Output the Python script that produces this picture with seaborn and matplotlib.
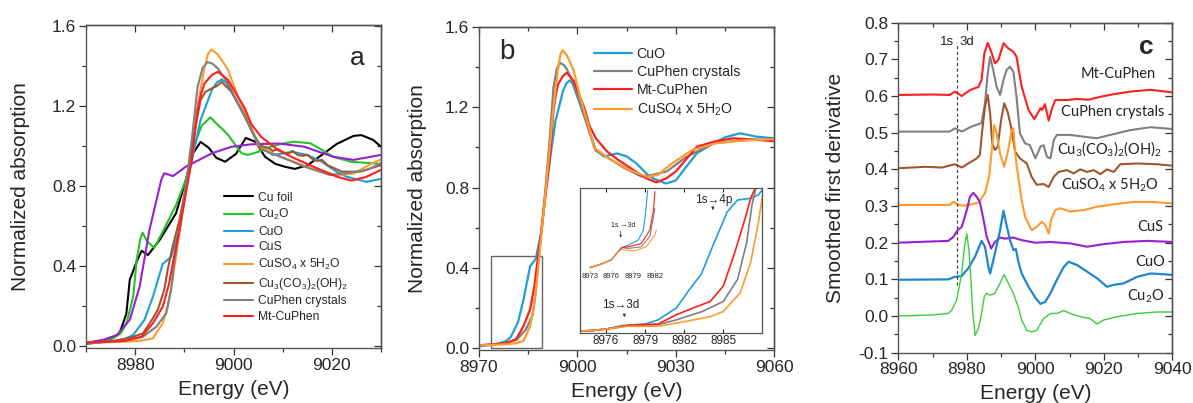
import matplotlib
matplotlib.use('Agg')
import matplotlib.pyplot as plt
import seaborn as sns
from matplotlib.ticker import MultipleLocator, AutoMinorLocator, NullFormatter
from matplotlib.patches import Rectangle

# ── DATA ───────────────────────────────────────────
# panel a / b : normalized XANES
e_cufoil = [8970, 8974, 8976.8, 8978.2, 8978.9, 8980.3, 8981.3, 8982.6, 8985, 8988.3, 8990.3, 8991.8,
            8993.3, 8995, 8996.5, 8998.3, 9000.5, 9002.5, 9004.5, 9006.4, 9008.5, 9010.4, 9012.5,
            9015.1, 9018.4, 9021, 9024.4, 9026, 9028.4, 9030]
y_cufoil = [0.01, 0.02, 0.06, 0.16, 0.33, 0.42, 0.475, 0.454, 0.53, 0.663, 0.83, 0.964,
            1.02, 0.99, 0.94, 0.921, 0.96, 1.04, 1.02, 0.946, 0.91, 0.896, 0.885,
            0.904, 0.963, 1.01, 1.05, 1.054, 1.03, 0.996]

e_cu2o = [8970, 8975, 8977, 8978.2, 8979.6, 8980.3, 8981.0, 8981.5, 8982.5, 8983.9, 8986, 8988.3,
          8990.3, 8992, 8993.5, 8995.3, 8996.8, 8997.5, 8998.9, 9000.5, 9001.6, 9002.9, 9005,
          9007.6, 9010, 9012.3, 9015.6, 9018, 9020.2, 9024, 9028.4, 9030]
y_cu2o = [0.01, 0.03, 0.06, 0.11, 0.245, 0.43, 0.53, 0.566, 0.52, 0.49, 0.59, 0.704,
          0.83, 1.0, 1.1, 1.143, 1.105, 1.09, 1.055, 1.0, 0.964, 0.955, 0.97,
          0.996, 1.012, 1.021, 1.013, 0.98, 0.946, 0.92, 0.913, 0.91]

e_cuo = [8970, 8975, 8978, 8979.6, 8981.9, 8983.6, 8985.6, 8986.6, 8987.3, 8989, 8990.3, 8991.8,
         8993.3, 8995.6, 8996.6, 8997.6, 8998.6, 8999.6, 9002.3, 9004, 9005.5, 9008, 9012, 9015,
         9018, 9021, 9023, 9027, 9030, 9033, 9036.4, 9041.4, 9045, 9049.6, 9054.6, 9060]
y_cuo = [0.01, 0.02, 0.035, 0.054, 0.13, 0.245, 0.41, 0.43, 0.445, 0.58, 0.78, 0.96,
         1.13, 1.28, 1.318, 1.333, 1.315, 1.27, 1.146, 1.063, 0.99, 0.955, 0.97, 0.955,
         0.92, 0.87, 0.846, 0.82, 0.835, 0.9, 0.97, 1.02, 1.05, 1.07, 1.053, 1.045]

e_cus = [8970, 8973.6, 8976.3, 8978.9, 8980.9, 8982.9, 8985.3, 8985.9, 8987.7, 8990.3, 8993,
         8995.6, 8999.6, 9003.6, 9009.1, 9014.4, 9020.2, 9024.4, 9030]
y_cus = [0.015, 0.03, 0.054, 0.13, 0.295, 0.58, 0.83, 0.863, 0.849, 0.896, 0.93,
         0.963, 0.996, 1.008, 1.012, 0.996, 0.946, 0.93, 0.955]

e_cuso4 = [8970, 8978, 8981, 8983.6, 8985.6, 8986.6, 8987.6, 8988.6, 8989.6, 8990.6, 8992.7,
           8994, 8994.8, 8995.5, 8996.7, 8997.6, 8998.9, 9000.9, 9003.6, 9005, 9009.1, 9015.8,
           9021.2, 9024.4, 9028.4, 9035, 9042, 9051.6, 9060]
y_cuso4 = [0.015, 0.02, 0.025, 0.037, 0.112, 0.195, 0.329, 0.495, 0.663, 0.83, 1.2,
           1.38, 1.46, 1.483, 1.46, 1.43, 1.38, 1.246, 1.096, 1.0, 0.95, 0.888,
           0.854, 0.862, 0.915, 0.987, 1.02, 1.036, 1.04]

e_cu3 = [8970, 8976, 8979, 8981.6, 8983.6, 8984.6, 8985.9, 8986.6, 8987.6, 8989, 8990.3, 8991.8,
         8993.3, 8994.3, 8995.6, 8996.6, 8997.6, 8999.6, 9002.3, 9004, 9005.5, 9007.1, 9008, 9009,
         9010, 9011, 9012, 9013, 9014, 9015, 9016.3, 9017, 9018, 9019.1, 9022, 9025.7, 9030]
y_cu3 = [0.015, 0.025, 0.04, 0.062, 0.137, 0.18, 0.279, 0.379, 0.495, 0.629, 0.796, 1.03,
         1.23, 1.271, 1.288, 1.30, 1.32, 1.271, 1.15, 1.06, 1.0, 0.99, 0.975, 0.985,
         0.97, 0.96, 0.975, 0.955, 0.95, 0.955, 0.93, 0.925, 0.93, 0.904, 0.871, 0.871, 0.904]

e_cuphen = [8970, 8978, 8981.6, 8984.3, 8986.3, 8987.3, 8987.9, 8989, 8990.1, 8991.5, 8992.7,
            8993.7, 8994.7, 8995.8, 8996.8, 8998.9, 9001.6, 9003.6, 9005.5, 9010.4, 9014, 9019.6,
            9022, 9027.2, 9033, 9041.4, 9050, 9060]
y_cuphen = [0.015, 0.025, 0.045, 0.095, 0.162, 0.279, 0.41, 0.58, 0.763, 1.03, 1.296,
            1.39, 1.42, 1.41, 1.388, 1.313, 1.18, 1.08, 0.985, 0.937, 0.90, 0.854,
            0.86, 0.88, 0.95, 1.02, 1.035, 1.04]

e_mt = [8970, 8978, 8981.3, 8983.6, 8985.6, 8986.9, 8987.9, 8989, 8990.3, 8991.5, 8992.7, 8993.4,
        8994.1, 8995.6, 8996.8, 8998.9, 9000.9, 9002.3, 9003.6, 9005.6, 9009, 9012.4, 9017, 9021,
        9024, 9027, 9030, 9036.4, 9042, 9047.4, 9053, 9060]
y_mt = [0.015, 0.025, 0.045, 0.112, 0.195, 0.312, 0.445, 0.58, 0.763, 0.93, 1.18, 1.26,
        1.313, 1.355, 1.371, 1.33, 1.246, 1.188, 1.11, 1.046, 0.98, 0.938, 0.888, 0.846,
        0.826, 0.845, 0.88, 1.003, 1.03, 1.045, 1.04, 1.03]

# panel b inset (pre-edge zoom)
ins_e_cuo = [8974.0, 8975, 8976.1, 8977.2, 8979.0, 8980.0, 8981.4, 8982.4, 8983.3, 8984.2, 8985.3,
             8986.1, 8987.1, 8987.7, 8988.1]
ins_y_cuo = [0.005, 0.007, 0.012, 0.022, 0.027, 0.040, 0.077, 0.134, 0.181, 0.270, 0.375,
             0.412, 0.417, 0.428, 0.449]
ins_e_mt = [8974.0, 8975, 8976.1, 8977.7, 8980.0, 8981.4, 8982.7, 8984.0, 8985.0, 8985.8, 8986.6,
            8987.1, 8987.5]
ins_y_mt = [0.005, 0.007, 0.012, 0.023, 0.027, 0.056, 0.077, 0.097, 0.145, 0.239, 0.344,
            0.417, 0.454]
ins_e_phen = [8974.0, 8975, 8976.1, 8977.7, 8980.0, 8981.4, 8983.4, 8985.0, 8986.1, 8986.8,
              8987.2, 8987.5]
ins_y_phen = [0.005, 0.007, 0.012, 0.022, 0.025, 0.040, 0.066, 0.097, 0.166, 0.281, 0.396, 0.449]
ins_e_so4 = [8974.0, 8975, 8976.1, 8977.7, 8980.0, 8982.1, 8984.0, 8985.0, 8986.3, 8987.1,
             8987.7, 8988.1]
ins_y_so4 = [0.005, 0.007, 0.012, 0.02, 0.02, 0.035, 0.050, 0.066, 0.124, 0.218, 0.344, 0.449]

# small inner inset (1s->3d)
inn_e_cuo = [8973, 8974.6, 8976.0, 8976.9, 8977.4, 8978.3, 8979.7, 8980.4, 8980.7, 8981.0]
inn_y_cuo = [0.003, 0.0075, 0.013, 0.023, 0.028, 0.031, 0.0375, 0.05, 0.071, 0.1]
inn_e_mt = [8973, 8974.6, 8976.0, 8976.9, 8977.4, 8978.3, 8980.1, 8981.3, 8981.8, 8982.0]
inn_y_mt = [0.003, 0.0075, 0.013, 0.023, 0.028, 0.029, 0.033, 0.05, 0.075, 0.098]
inn_e_phen = [8973, 8974.6, 8976.0, 8976.9, 8977.4, 8978.3, 8980.1, 8981.3, 8982.0]
inn_y_phen = [0.003, 0.0075, 0.013, 0.023, 0.028, 0.027, 0.029, 0.042, 0.077]
inn_e_so4 = [8973, 8974.6, 8976.0, 8976.9, 8977.4, 8977.8, 8979.2, 8980.8, 8982.0, 8982.2]
inn_y_so4 = [0.003, 0.0075, 0.013, 0.023, 0.026, 0.025, 0.024, 0.029, 0.044, 0.05]

# panel c : smoothed first derivative (stacked, offsets included)
c_e_mt = [8960, 8970, 8975, 8976.5, 8978.5, 8980.9, 8983.4, 8984.3, 8985.1, 8986.1, 8987.3, 8988.2,
          8989.2, 8990.7, 8992.1, 8993.6, 8994.5, 8996.0, 8998.0, 8999.7, 9001.5, 9002.0, 9002.8,
          9003.9, 9004.9, 9005.8, 9009.2, 9012, 9015.6, 9019, 9022.9, 9027.7, 9033.6, 9040]
c_y_mt = [0.603, 0.604, 0.603, 0.612, 0.600, 0.616, 0.625, 0.644, 0.716, 0.745, 0.716, 0.689,
          0.698, 0.744, 0.730, 0.721, 0.707, 0.626, 0.562, 0.537, 0.567, 0.562, 0.578,
          0.533, 0.567, 0.589, 0.589, 0.592, 0.590, 0.598, 0.605, 0.612, 0.617, 0.610]
c_e_phen = [8960, 8975, 8976.5, 8978.5, 8981.4, 8984.3, 8985.3, 8986.1, 8986.8, 8987.7, 8988.7,
            8989.7, 8990.7, 8991.6, 8992.6, 8993.6, 8994.5, 8995.5, 8997.0, 8998.4, 9000.0, 9001.5,
            9002.4, 9003.4, 9004.4, 9005.4, 9006.3, 9010.2, 9014.1, 9018, 9021.9, 9027.7, 9033.6, 9040]
c_y_phen = [0.503, 0.503, 0.512, 0.503, 0.517, 0.526, 0.58, 0.662, 0.707, 0.671, 0.625,
            0.603, 0.644, 0.671, 0.68, 0.666, 0.598, 0.498, 0.471, 0.466, 0.430, 0.462,
            0.466, 0.434, 0.430, 0.480, 0.494, 0.494, 0.489, 0.485, 0.494, 0.507, 0.515, 0.510]
c_e_cu3 = [8960, 8967.8, 8972.7, 8976.5, 8978.5, 8980.4, 8982.9, 8983.8, 8984.5, 8985.3, 8986.1,
           8986.8, 8987.4, 8988.2, 8989.0, 8990.0, 8990.9, 8991.9, 8992.9, 8994.1, 8995.5, 8997.5,
           8998.9, 9000.4, 9002.4, 9003.9, 9005.4, 9006.8, 9009.2, 9011.2, 9013.1, 9015.1, 9017.0,
           9019.0, 9020.9, 9022.9, 9024.8, 9029.7, 9035.5, 9040]
c_y_cu3 = [0.403, 0.407, 0.405, 0.414, 0.405, 0.416, 0.430, 0.439, 0.507, 0.571, 0.603,
           0.553, 0.471, 0.453, 0.462, 0.534, 0.580, 0.557, 0.516, 0.448, 0.430, 0.416,
           0.380, 0.358, 0.360, 0.352, 0.380, 0.393, 0.398, 0.389, 0.400, 0.393, 0.398,
           0.387, 0.400, 0.393, 0.414, 0.416, 0.414, 0.410]
c_e_so4 = [8960, 8975, 8976.1, 8977.5, 8979.5, 8983.4, 8985.3, 8986.5, 8987.4, 8988.0, 8988.7,
           8989.7, 8990.9, 8992.1, 8993.1, 8993.6, 8994.1, 8995.0, 8996.0, 8997.0, 8998.9, 9000.5,
           9001.9, 9002.9, 9003.9, 9004.6, 9005.8, 9007.3, 9010.2, 9014.1, 9018, 9022.9, 9028.7,
           9034.5, 9040]
c_y_so4 = [0.303, 0.303, 0.312, 0.303, 0.301, 0.309, 0.335, 0.380, 0.462, 0.521, 0.498,
           0.443, 0.407, 0.453, 0.507, 0.512, 0.443, 0.380, 0.316, 0.271, 0.234, 0.244,
           0.257, 0.248, 0.225, 0.262, 0.289, 0.294, 0.285, 0.289, 0.298, 0.305, 0.311,
           0.311, 0.307]
c_e_cus = [8960, 8974.6, 8976.1, 8977.3, 8978.5, 8980.0, 8980.9, 8981.9, 8982.9, 8983.8, 8984.8,
           8985.8, 8987.1, 8988.2, 8989.7, 8991.1, 8993.6, 8996.0, 8999.9, 9004.4, 9010.2, 9015.1,
           9019.9, 9025.8, 9032.6, 9040]
c_y_cus = [0.200, 0.205, 0.216, 0.234, 0.243, 0.289, 0.325, 0.336, 0.325, 0.311, 0.266,
           0.216, 0.184, 0.202, 0.214, 0.211, 0.214, 0.207, 0.200, 0.202, 0.198, 0.189,
           0.196, 0.202, 0.205, 0.202]
c_e_cuo = [8960, 8974.6, 8976.5, 8978.5, 8980.4, 8982.4, 8984.3, 8985.3, 8986.3, 8986.8, 8988.2,
           8989.7, 8990.7, 8991.6, 8992.6, 8993.6, 8994.3, 8995.0, 8996.0, 8998.0, 9000.0, 9001.5,
           9002.9, 9004.4, 9006.3, 9008.3, 9009.7, 9012.2, 9015.1, 9018, 9020.9, 9022.9, 9025.8,
           9029.7, 9033.6, 9037.5, 9040]
c_y_cuo = [0.099, 0.100, 0.107, 0.109, 0.130, 0.162, 0.205, 0.189, 0.134, 0.116, 0.171,
           0.234, 0.287, 0.248, 0.207, 0.180, 0.183, 0.150, 0.116, 0.080, 0.050, 0.033,
           0.039, 0.062, 0.099, 0.134, 0.148, 0.139, 0.121, 0.103, 0.080, 0.085, 0.089,
           0.107, 0.116, 0.114, 0.112]
c_e_cu2o = [8960, 8969.7, 8974.6, 8975.6, 8977.0, 8978.5, 8979.3, 8980.0, 8980.6, 8981.2, 8981.6,
            8982.4, 8983.4, 8984.3, 8985.1, 8985.8, 8986.8, 8988.2, 8989.7, 8990.9, 8992.1, 8993.6,
            8995.0, 8996.0, 8997.5, 8998.9, 9000.4, 9002.4, 9004.4, 9006.3, 9008.3, 9010.2, 9013.1,
            9016.0, 9018.0, 9019.9, 9023.8, 9029.7, 9035.5, 9040]
c_y_cu2o = [0.0, 0.003, 0.007, 0.016, 0.043, 0.116, 0.189, 0.224, 0.180, 0.099, 0.025,
            -0.053, -0.034, 0.007, 0.053, 0.062, 0.057, 0.062, 0.090, 0.113, 0.090, 0.062,
            0.025, -0.011, -0.039, -0.043, -0.039, -0.007, 0.007, 0.007, 0.015, 0.007, -0.002,
            -0.007, -0.022, -0.011, -0.002, 0.007, 0.011, 0.011]

labels_a = ['Cu foil', 'Cu$_2$O', 'CuO', 'CuS', 'CuSO$_4$ x 5H$_2$O',
            'Cu$_3$(CO$_3$)$_2$(OH)$_2$', 'CuPhen crystals', 'Mt-CuPhen']
labels_b = ['CuO', 'CuPhen crystals', 'Mt-CuPhen', 'CuSO$_4$ x 5H$_2$O']
labels_c = ['Mt-CuPhen', 'CuPhen crystals', 'Cu$_3$(CO$_3$)$_2$(OH)$_2$', 'CuSO$_4$ x 5H$_2$O',
            'CuS', 'CuO', 'Cu$_2$O']
label_c_x = [9024.1, 9022.7, 9021.6, 9021.9, 9033.6, 9033.6, 9032.1]
label_c_y = [0.660, 0.557, 0.457, 0.357, 0.244, 0.148, 0.053]

zoom_box = (8973.7, 8989.1, 0.0, 0.46)
edge_1s3d = 8977.0

# ── STYLE ──────────────────────────────────────────
sns.set_theme(style='ticks')
plt.rcParams['font.family'] = ['Liberation Sans', 'DejaVu Sans']
plt.rcParams['mathtext.default'] = 'regular'
plt.rcParams['axes.unicode_minus'] = False

COL = {'foil': 'black', 'cu2o': '#22c322', 'cuo': '#1e9fd8', 'cus': '#9a1fd4',
       'so4': '#ff9a2e', 'cu3': '#a0562c', 'phen': '#808080', 'mt': '#ff1f1f'}
C_COL = {'cuo': '#1f86cc', 'cu2o': '#3dcc3d'}


def draw(ax, e, y, color, lw=1.5, label=None):
    sns.lineplot(x=e, y=y, ax=ax, color=color, linewidth=lw, estimator=None,
                 sort=False, label=label, legend=False)


def frame(ax, xmaj, ymaj, fs=12.5):
    ax.xaxis.set_major_locator(MultipleLocator(xmaj))
    ax.yaxis.set_major_locator(MultipleLocator(ymaj))
    ax.xaxis.set_minor_locator(AutoMinorLocator(2))
    ax.yaxis.set_minor_locator(AutoMinorLocator(2))
    ax.tick_params(which='both', direction='out', top=False, right=False, labelsize=fs,
                   width=0.9, color='#333333', pad=2)
    ax.tick_params(which='major', length=5)
    ax.tick_params(which='minor', length=3)
    for s in ax.spines.values():
        s.set_color('#555555')
        s.set_linewidth(1.0)
    top = ax.secondary_xaxis('top')
    right = ax.secondary_yaxis('right')
    for sec, axis in ((top, top.xaxis), (right, right.yaxis)):
        axis.set_major_locator(MultipleLocator(xmaj if sec is top else ymaj))
        axis.set_minor_locator(AutoMinorLocator(2))
        axis.set_major_formatter(NullFormatter())
        sec.tick_params(which='both', direction='in', width=0.9, color='#333333')
        sec.tick_params(which='major', length=5)
        sec.tick_params(which='minor', length=3)
        for s in sec.spines.values():
            s.set_color('#555555')
            s.set_linewidth(1.0)


fig = plt.figure(figsize=(11.93, 4.03), dpi=100)

# ── PANEL A ────────────────────────────────────────
ax_a = fig.add_axes([0.0721, 0.1357, 0.2473, 0.8022])
curves_a = [(e_cufoil, y_cufoil, 'foil'), (e_cu2o, y_cu2o, 'cu2o'), (e_cuo, y_cuo, 'cuo'),
            (e_cus, y_cus, 'cus'), (e_cuso4, y_cuso4, 'so4'), (e_cu3, y_cu3, 'cu3'),
            (e_cuphen, y_cuphen, 'phen'), (e_mt, y_mt, 'mt')]
for (e, y, k), lab in zip(curves_a, labels_a):
    draw(ax_a, e, y, COL[k], 1.5, lab)
ax_a.set_xlim(8970, 9030)
ax_a.set_ylim(-0.013, 1.605)
frame(ax_a, 20, 0.4)
ax_a.set_xlabel('Energy (eV)', fontsize=15, labelpad=5)
ax_a.set_ylabel('Normalized absorption', fontsize=15, labelpad=16)
ax_a.text(9025.1, 1.44, 'a', fontsize=19, ha='center', va='center')
ax_a.legend(loc='upper left', bbox_to_anchor=(0.468, 0.485), frameon=False, fontsize=8.7,
            handlelength=2.4, handletextpad=0.4, labelspacing=0.3, borderpad=0, borderaxespad=0)

# ── PANEL B ────────────────────────────────────────
ax_b = fig.add_axes([0.4015, 0.1315, 0.2475, 0.8022])
curves_b = [(e_cuo, y_cuo, 'cuo'), (e_cuphen, y_cuphen, 'phen'), (e_mt, y_mt, 'mt'),
            (e_cuso4, y_cuso4, 'so4')]
for (e, y, k), lab in zip(curves_b, labels_b):
    draw(ax_b, e, y, COL[k], 1.6, lab)
ax_b.set_xlim(8970, 9060)
ax_b.set_ylim(-0.008, 1.6)
frame(ax_b, 30, 0.4)
ax_b.set_xlabel('Energy (eV)', fontsize=15, labelpad=5)
ax_b.set_ylabel('Normalized absorption', fontsize=15, labelpad=13)
ax_b.text(8978.4, 1.474, 'b', fontsize=20, ha='center', va='center')
ax_b.legend(loc='upper left', bbox_to_anchor=(0.39, 0.938), frameon=False, fontsize=10.2,
            handlelength=2.7, handletextpad=0.3, labelspacing=0.3, borderpad=0, borderaxespad=0)
x0, x1, y0, y1 = zoom_box
ax_b.add_patch(Rectangle((x0, y0), x1 - x0, y1 - y0, fill=False, edgecolor='#666666', lw=1.0))

# inset
ax_i = fig.add_axes([0.4862, 0.1744, 0.1523, 0.3598])
for e, y, k in [(ins_e_cuo, ins_y_cuo, 'cuo'), (ins_e_phen, ins_y_phen, 'phen'),
                (ins_e_mt, ins_y_mt, 'mt'), (ins_e_so4, ins_y_so4, 'so4')]:
    draw(ax_i, e, y, COL[k], 1.2)
ax_i.set_xlim(8974, 8987.95)
ax_i.set_ylim(0, 0.45)
ax_i.xaxis.set_major_locator(MultipleLocator(3))
ax_i.set_yticks([])
ax_i.tick_params(axis='x', direction='in', length=3, labelsize=8.5, pad=2, top=True, width=0.8)
for s in ax_i.spines.values():
    s.set_color('#555555')
    s.set_linewidth(0.9)
ax_i.text(8984.3, 0.412, '1s\u21924p', fontsize=8.5, ha='center', va='center')
ax_i.annotate('', xy=(8984.2, 0.372), xytext=(8984.2, 0.395),
              arrowprops=dict(arrowstyle='-|>', lw=0.6, color='#333333', mutation_scale=4))
ax_i.text(8977.1, 0.087, '1s\u21923d', fontsize=8.5, ha='center', va='center')
ax_i.annotate('', xy=(8977.4, 0.048), xytext=(8977.4, 0.064),
              arrowprops=dict(arrowstyle='-|>', lw=0.6, color='#333333', mutation_scale=4))

# inner inset
ax_n = fig.add_axes([0.4915, 0.33, 0.0605, 0.1985])
ax_n.patch.set_alpha(0)
for e, y, k in [(inn_e_cuo, inn_y_cuo, 'cuo'), (inn_e_phen, inn_y_phen, 'phen'),
                (inn_e_mt, inn_y_mt, 'mt'), (inn_e_so4, inn_y_so4, 'so4')]:
    draw(ax_n, e, y, COL[k], 0.8)
ax_n.set_xlim(8972.5, 8982.5)
ax_n.set_ylim(0, 0.1)
ax_n.xaxis.set_major_locator(MultipleLocator(3))
ax_n.set_yticks([])
ax_n.tick_params(axis='x', direction='out', length=1.5, labelsize=5.5, pad=1, width=0.5,
                 color='#999999')
for s in ax_n.spines.values():
    s.set_visible(False)
ax_n.text(8977.6, 0.056, '1s \u21923d', fontsize=5, ha='center', va='center')
ax_n.annotate('', xy=(8977.25, 0.037), xytext=(8977.25, 0.052),
              arrowprops=dict(arrowstyle='-|>', lw=0.5, color='#333333', mutation_scale=3))

# ── PANEL C ────────────────────────────────────────
ax_c = fig.add_axes([0.753, 0.1248, 0.2297, 0.8189])
curves_c = [(c_e_mt, c_y_mt, COL['mt'], 1.5), (c_e_phen, c_y_phen, COL['phen'], 1.5),
            (c_e_cu3, c_y_cu3, COL['cu3'], 1.5), (c_e_so4, c_y_so4, COL['so4'], 1.5),
            (c_e_cus, c_y_cus, COL['cus'], 1.5), (c_e_cuo, c_y_cuo, C_COL['cuo'], 1.6),
            (c_e_cu2o, c_y_cu2o, C_COL['cu2o'], 1.0)]
for e, y, col, lw in curves_c:
    draw(ax_c, e, y, col, lw)
ax_c.set_xlim(8960, 9040)
ax_c.set_ylim(-0.1, 0.8)
frame(ax_c, 20, 0.1)
ax_c.set_xlabel('Energy (eV)', fontsize=15, labelpad=5)
ax_c.set_ylabel('Smoothed first derivative', fontsize=15, labelpad=10)
ax_c.axvline(edge_1s3d, ymin=(0.085 + 0.1) / 0.9, ymax=(0.745 + 0.1) / 0.9,
             color='#444444', lw=0.9, ls=(0, (2.5, 2)))
ax_c.text(edge_1s3d - 0.8, 0.748, '1s', fontsize=9.5, ha='right', va='center', color='#222222')
ax_c.text(edge_1s3d + 0.8, 0.748, '3d', fontsize=9.5, ha='left', va='center', color='#222222')
for lab, lx, ly in zip(labels_c, label_c_x, label_c_y):
    ax_c.text(lx, ly, lab, fontsize=10.5, ha='center', va='center', color='#222222',
              family=['Lato', 'DejaVu Sans'])
ax_c.text(9032.4, 0.735, 'c', fontsize=19, fontweight='bold', ha='center', va='center')

fig.savefig('out.png', dpi=100)
